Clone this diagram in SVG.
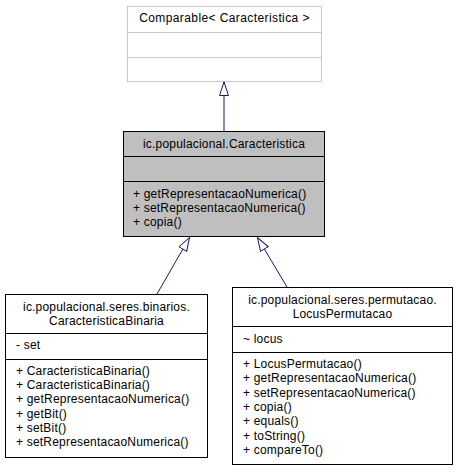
<svg xmlns="http://www.w3.org/2000/svg" width="457" height="472" viewBox="0 0 457 472">
<style>
text{font-family:"Liberation Sans",Arial,sans-serif;font-size:12px;letter-spacing:0.2px;fill:#000}
.c{text-anchor:middle}
.box{fill:#fff;stroke:#000;stroke-width:1}
.gray{fill:#bfbfbf;stroke:#000;stroke-width:1}
.ext{fill:#fff;stroke:#c8c8c8;stroke-width:1}
.dv{stroke:#000;stroke-width:1}
.dvx{stroke:#c8c8c8;stroke-width:1}
.edge{stroke:#191970;stroke-width:1;fill:none}
</style>
<defs>
<marker id="inh" markerUnits="userSpaceOnUse" markerWidth="16" markerHeight="12" refX="14" refY="5" orient="auto">
<path d="M0.5,0.5 L14,5 L0.5,9.5 Z" fill="#fff" stroke="#191970" stroke-width="1"/>
</marker>
</defs>
<rect width="457" height="472" fill="#fff"/>
<g id="connectors">
<line class="edge" x1="224" y1="131" x2="224" y2="82" marker-end="url(#inh)"/>
<line class="edge" x1="157" y1="294" x2="189.5" y2="237.5" marker-end="url(#inh)"/>
<line class="edge" x1="287" y1="287" x2="257.5" y2="237.5" marker-end="url(#inh)"/>
</g>
<g id="comparable">
<rect class="ext" x="127.5" y="6.5" width="194" height="75"/>
<line class="dvx" x1="127.5" y1="32.5" x2="321.5" y2="32.5"/>
<line class="dvx" x1="127.5" y1="57.5" x2="321.5" y2="57.5"/>
<text class="c" x="224.5" y="22" style="letter-spacing:0.4px">Comparable&lt; Caracteristica &gt;</text>
</g>
<g id="caracteristica">
<rect class="gray" x="123.5" y="131.5" width="201" height="105"/>
<line class="dv" x1="123.5" y1="156.5" x2="324.5" y2="156.5"/>
<line class="dv" x1="123.5" y1="181.5" x2="324.5" y2="181.5"/>
<text class="c" x="224" y="148">ic.populacional.Caracteristica</text>
<text x="133" y="197.5">+ getRepresentacaoNumerica()</text>
<text x="133" y="211.8">+ setRepresentacaoNumerica()</text>
<text x="133" y="226.1">+ copia()</text>
</g>
<g id="caracteristicaBinaria">
<rect class="box" x="5.5" y="294.5" width="202" height="163"/>
<line class="dv" x1="5.5" y1="333.5" x2="207.5" y2="333.5"/>
<line class="dv" x1="5.5" y1="359.5" x2="207.5" y2="359.5"/>
<text class="c" x="106.5" y="311">ic.populacional.seres.binarios.</text>
<text class="c" x="106.5" y="324.5">CaracteristicaBinaria</text>
<text x="16" y="349.3">- set</text>
<text x="16" y="375">+ CaracteristicaBinaria()</text>
<text x="16" y="389.2">+ CaracteristicaBinaria()</text>
<text x="16" y="403.4">+ getRepresentacaoNumerica()</text>
<text x="16" y="417.6">+ getBit()</text>
<text x="16" y="431.8">+ setBit()</text>
<text x="16" y="446">+ setRepresentacaoNumerica()</text>
</g>
<g id="locusPermutacao">
<rect class="box" x="232.5" y="287.5" width="220" height="177"/>
<line class="dv" x1="232.5" y1="326.5" x2="452.5" y2="326.5"/>
<line class="dv" x1="232.5" y1="352.5" x2="452.5" y2="352.5"/>
<text class="c" x="342.5" y="304">ic.populacional.seres.permutacao.</text>
<text class="c" x="342.5" y="317.5">LocusPermutacao</text>
<text x="243" y="342.7">~ locus</text>
<text x="243" y="368">+ LocusPermutacao()</text>
<text x="243" y="382.3">+ getRepresentacaoNumerica()</text>
<text x="243" y="396.6">+ setRepresentacaoNumerica()</text>
<text x="243" y="410.9">+ copia()</text>
<text x="243" y="425.2">+ equals()</text>
<text x="243" y="439.5">+ toString()</text>
<text x="243" y="453.8">+ compareTo()</text>
</g>
</svg>
